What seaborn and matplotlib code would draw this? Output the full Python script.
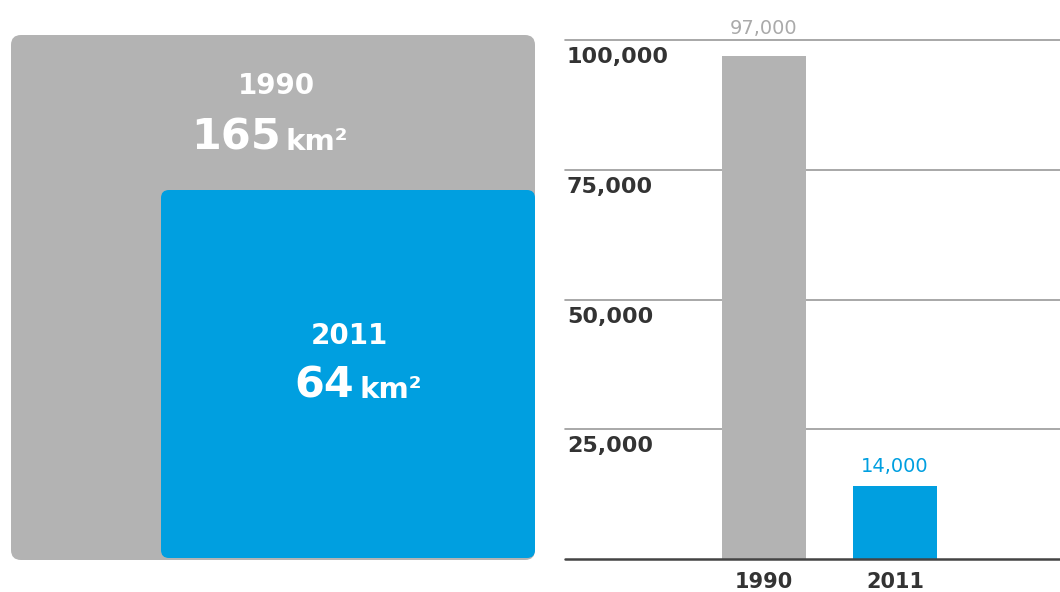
import numpy as np
import pandas as pd
import seaborn as sns
import matplotlib.pyplot as plt
from matplotlib.patches import FancyBboxPatch

# data
years = ["1990", "2011"]
areas_km2 = [165, 64]
counts = [97000, 14000]
yticks = [25000, 50000, 75000, 100000]

gray = "#b3b3b3"
blue = "#009fe0"
dark = "#333333"

sns.set_theme(style="white")
plt.rcParams["font.family"] = ["DejaVu Sans"]

W, H = 1060, 592
fig = plt.figure(figsize=(W / 100, H / 100), dpi=100)
fig.patch.set_facecolor("white")

# left panel: nested squares, drawn in pixel coordinates
ax0 = fig.add_axes([0, 0, 550 / W, 1])
ax0.set_xlim(0, 550)
ax0.set_ylim(H, 0)
ax0.axis("off")

boxes = [
    dict(x=11, y=35, w=524, h=525, c=gray, r=10),
    dict(x=161, y=190, w=374, h=368, c=blue, r=8),
]
for b in boxes:
    ax0.add_patch(FancyBboxPatch((b["x"], b["y"]), b["w"], b["h"],
                                 boxstyle=f"round,pad=0,rounding_size={b['r']}",
                                 fc=b["c"], ec="none"))

# labels inside the squares
label_pos = [(276, 86, 150), (349, 336, 398)]
for (cx, y_year, y_base), yr, a in zip(label_pos, years, areas_km2):
    ax0.text(cx, y_year, yr, color="white", fontsize=20, fontweight="bold",
             ha="center", va="center")
    ax0.text(cx + 5, y_base, f"{a}", color="white", fontsize=31,
             fontweight="bold", ha="right", va="baseline")
    ax0.text(cx + 10, y_base, "km²", color="white", fontsize=21,
             fontweight="bold", ha="left", va="baseline")

# right panel: bar chart
ax1 = fig.add_axes([565 / W, (H - 559) / H, (W - 565) / W, (559 - 40) / H])
df = pd.DataFrame({"year": years, "count": counts})
sns.barplot(data=df, x="year", y="count", hue="year", palette=[gray, blue],
            width=0.64, legend=False, ax=ax1, saturation=1, linewidth=0)
ax1.set_xlim(-1.52, 2.26)
ax1.set_ylim(0, 100000)
for s in ax1.spines.values():
    s.set_visible(False)
ax1.set_xlabel("")
ax1.set_ylabel("")
ax1.set_yticks([])

for t in yticks:
    ax1.axhline(t, color="#9a9a9a", lw=1.2, zorder=0, clip_on=False)
    ax1.annotate(f"{t:,}", (0.004, t), xycoords=("axes fraction", "data"),
                 xytext=(0, -7), textcoords="offset pixels", ha="left",
                 va="top", fontsize=16, fontweight="bold", color=dark)
ax1.axhline(0, color="#444444", lw=1.8, clip_on=False)

ax1.tick_params(axis="x", length=0, pad=9)
for lab in ax1.get_xticklabels():
    lab.set_fontsize(15)
    lab.set_fontweight("bold")
    lab.set_color(dark)

val_colors = ["#aaaaaa", blue]
val_offsets = [18, 10]
for i, (v, c, off) in enumerate(zip(counts, val_colors, val_offsets)):
    ax1.annotate(f"{v:,}", (i, v), xytext=(0, off), textcoords="offset pixels",
                 ha="center", va="bottom", fontsize=14, color=c,
                 annotation_clip=False)

fig.savefig("out.png", dpi=100)
